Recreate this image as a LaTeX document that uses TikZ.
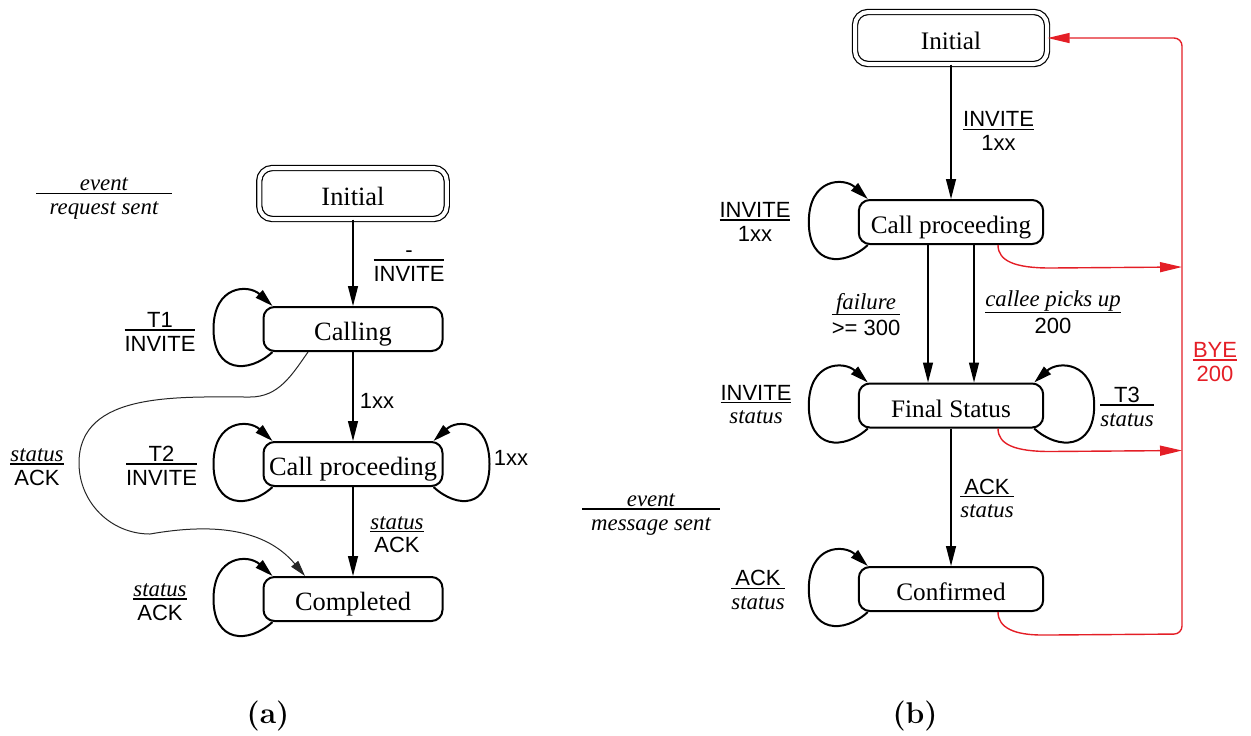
\documentclass[tikz,border=0pt]{standalone}
\usepackage{fontspec}
\newfontfamily\tms{Liberation Serif}
\newfontfamily\arl{Liberation Sans}
\usetikzlibrary{arrows.meta,calc}
\definecolor{bred}{RGB}{228,30,38}
\newcommand{\SA}{\arl\fontsize{11}{13}\selectfont}
\newcommand{\SI}{\tms\itshape\fontsize{11.4}{13}\selectfont}
\newcommand{\fr}[3][0pt]{{\renewcommand{\arraystretch}{0}\setlength{\tabcolsep}{#1}\setlength{\arrayrulewidth}{0.6pt}%
\begin{tabular}{c}\rule[-1pt]{0pt}{10pt}#2\\\hline\rule[-3pt]{0pt}{13.2pt}#3\end{tabular}}}
\newcommand{\lloop}[1]{\draw[loopl] ([shift={(10,0)}]#1.south west) .. controls +(-24,-22) and +(0,-44) .. ([shift={(-49,0)}]#1.west) .. controls +(0,44) and +(-24,22) .. ([shift={(10,0)}]#1.north west);}
\newcommand{\rloop}[2][47]{\draw[loopl] ([shift={(-10,0)}]#2.south east) .. controls +(24,-22) and +(0,-44) .. ([shift={(#1,0)}]#2.east) .. controls +(0,44) and +(24,22) .. ([shift={(-10,0)}]#2.north east);}
\begin{document}
\begin{tikzpicture}[x=0.5pt,y=0.5pt,
  box/.style={draw, line width=1pt, rounded corners=5.5pt, minimum height=22pt, inner sep=1pt, text height=11.5pt, text depth=0pt},
  boxa/.style={box, minimum width=89.5pt, font=\tms\fontsize{13.2}{15}\selectfont},
  boxb/.style={box, minimum width=92.2pt, font=\tms\fontsize{12.6}{15}\selectfont},
  initbox/.style={draw, double, double distance=2pt, line width=0.6pt, rounded corners=6.5pt, inner sep=1pt, text height=11.5pt, text depth=0pt},
  lab/.style={inner sep=0pt},
  arr/.style={line width=0.65pt, -{Triangle[length=10pt,width=5pt]}},
  arrc/.style={line width=0.5pt, black!85, -{Triangle[length=8pt,width=4.5pt]}},
  loopl/.style={line width=1pt, -{Triangle[length=9pt,width=5pt]}},
  redarr/.style={line width=0.7pt, bred, -{Triangle[length=11pt,width=5pt]}}
]
\useasboundingbox (0,0) rectangle (1251,-735);

% ---------------- (a) ----------------
\node[initbox, minimum width=93.75pt, minimum height=25.5pt, font=\tms\fontsize{13.2}{15}\selectfont] (iA) at (353,-193.5) {Initial};
\node[boxa] (cA) at (353,-329) {Calling};
\node[boxa] (qA) at (353,-464) {Call proceeding};
\node[boxa] (pA) at (353,-599) {Completed};

\draw[arr] (iA) -- (cA);
\draw[arr] (cA) -- (qA);
\draw[arr] (qA) -- (pA);
\draw[arrc] ([shift={(-45,0)}]cA.south) to[out=-125,in=0] (250,-397) to[out=180,in=90] (79,-463) to[out=-90,in=180] (150,-534) to[out=10,in=130] ([shift={(-48,0)}]pA.north);

\lloop{cA}
\lloop{qA}
\rloop[46]{qA}
\lloop{pA}

\node[lab] (ev1) at (104,-196.5) {\fr[6.8pt]{\SI event}{\SI request sent}};
\node[lab] (l1) at (409,-263.2) {\fr{\SA -}{\SA INVITE}};
\node[lab] (l2) at (160,-333.2) {\fr{\SA T1}{\SA INVITE}};
\node[lab, font=\SA] (l3) at (377,-400.7) {1xx};
\node[lab] (l4) at (161.5,-467.2) {\fr{\SA T2}{\SA INVITE}};
\node[lab, font=\SA] (l5) at (511,-458) {1xx};
\node[lab] (l6) at (37,-467.2) {\fr{\SI status}{\SA ACK}};
\node[lab] (l7) at (397,-534.9) {\fr{\SI status}{\SA ACK}};
\node[lab] (l8) at (160,-602.2) {\fr{\SI status}{\SA ACK}};

\node[lab, font=\bfseries\fontsize{15}{18}\selectfont] (capA) at (268,-716) {(a)};

% ---------------- (b) ----------------
\node[initbox, minimum width=96pt, minimum height=26pt, font=\tms\fontsize{12.6}{15}\selectfont] (iB) at (951,-38) {Initial};
\node[boxb] (qB) at (951,-222) {Call proceeding};
\node[boxb] (fB) at (951,-405.5) {Final Status};
\node[boxb] (kB) at (951,-589) {Confirmed};

\draw[arr] (iB) -- (qB);
\draw[arr] ([shift={(-23,0)}]qB.south) -- ([shift={(-23,0)}]fB.north);
\draw[arr] ([shift={(23,0)}]qB.south) -- ([shift={(23,0)}]fB.north);
\draw[arr] (fB) -- (kB);

\lloop{qB}
\lloop{fB}
\rloop[50]{fB}
\lloop{kB}

\coordinate (r1) at (1182,-267);
\coordinate (r2) at (1182,-450.5);
\coordinate (rb) at (1182,-634);
\draw[redarr] ([shift={(47,0)}]qB.south) .. controls +(0,-16) and +(-35,0) .. ++(52,-23) -- (r1);
\draw[redarr] ([shift={(47,0)}]fB.south) .. controls +(0,-16) and +(-35,0) .. ++(52,-23) -- (r2);
\draw[redarr, rounded corners=4pt] ([shift={(47,0)}]kB.south) .. controls +(0,-16) and +(-35,0) .. ++(52,-23) -- (rb) |- (iB.east);

\node[lab] (m1) at (998.6,-132.5) {\fr{\SA INVITE}{\SA 1xx}};
\node[lab] (m2) at (755,-223.2) {\fr{\SA INVITE}{\SA 1xx}};
\node[lab] (m3) at (866,-316.5) {\fr{\SI failure}{\SA >= 300}};
\node[lab] (m4) at (1053,-314) {\fr{\SI callee picks up}{\SA 200}};
\node[lab, text=bred] (m5) at (1215,-363.2) {\fr{\SA BYE}{\SA 200}};
\node[lab] (m6) at (756,-405.9) {\fr{\SA INVITE}{\SI status}};
\node[lab] (m7) at (1127,-408.2) {\fr{\SA T3}{\SI status}};
\node[lab] (m8) at (987,-499.9) {\fr{\SA ACK}{\SI status}};
\node[lab] (m9) at (651,-512.2) {\fr[4.5pt]{\SI event}{\SI message sent}};
\node[lab] (m10) at (758,-591.5) {\fr{\SA ACK}{\SI status}};

\node[lab, font=\bfseries\fontsize{15}{18}\selectfont] (capB) at (915,-716) {(b)};
\end{tikzpicture}
\end{document}
